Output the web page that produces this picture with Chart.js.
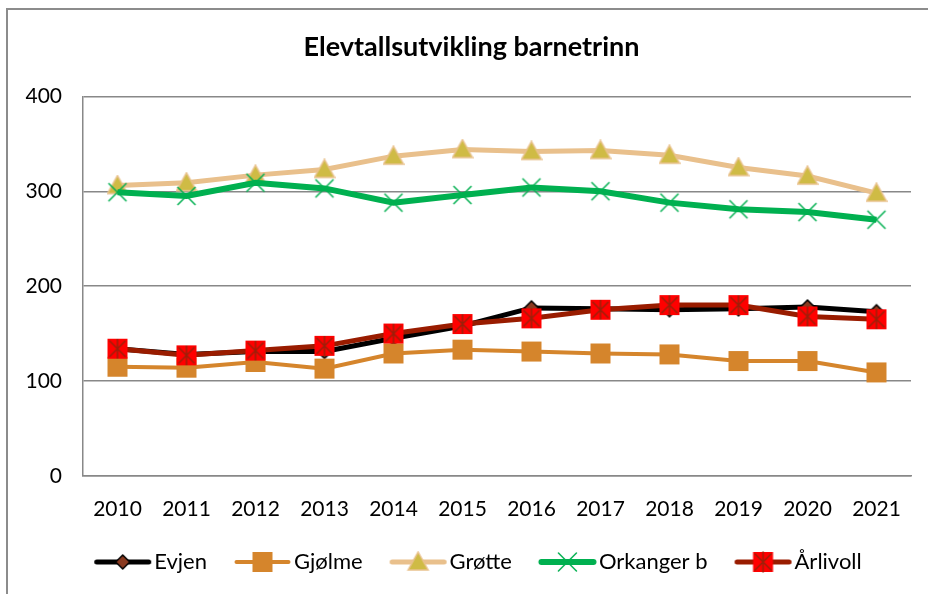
<!DOCTYPE html>
<html>
<head>
<meta charset="utf-8">
<script src="https://cdn.jsdelivr.net/npm/chart.js@4.4.0/dist/chart.umd.min.js"></script>
<style>
  html, body { margin: 0; padding: 0; background: #fff; }
  #wrap { position: relative; width: 928px; height: 594px; }
  #frame {
    position: absolute; left: 6px; top: 8px; width: 940px; height: 600px;
    border: 2px solid #8c8c8c; box-sizing: border-box;
  }
  canvas { position: absolute; left: 0; top: 0; }
</style>
</head>
<body>
<div id="wrap">
  <div id="frame"></div>
  <canvas id="chart" width="928" height="594"></canvas>
</div>
<script>
'use strict';

// ---------------------------------------------------------------------------
// Data
// ---------------------------------------------------------------------------

const YEARS = ['2010', '2011', '2012', '2013', '2014', '2015',
               '2016', '2017', '2018', '2019', '2020', '2021'];

const EVJEN     = [134, 128, 131, 131, 145, 158, 177, 176, 175, 176, 178, 173];
const GJOLME    = [115, 114, 120, 113, 129, 133, 131, 129, 128, 121, 121, 109];
const GROTTE    = [306, 309, 317, 323, 337, 344, 342, 343, 338, 325, 316, 298];
const ORKANGER  = [299, 295, 309, 303, 288, 296, 304, 300, 288, 281, 278, 270];
const ARLIVOLL  = [134, 127, 132, 137, 150, 160, 166, 175, 180, 180, 168, 165];

const Y_TICKS = [0, 100, 200, 300, 400];

const FONT = 'Lato, "Open Sans", "Noto Sans", sans-serif';

// ---------------------------------------------------------------------------
// Marker images (Excel-like)
// ---------------------------------------------------------------------------

function makeCanvas(w, h, draw) {
    const c = document.createElement('canvas');
    c.width = w;
    c.height = h;
    draw(c.getContext('2d'), w, h);
    return c;
}

function drawDiamond(ctx, cx, cy) {
    ctx.beginPath();
    ctx.moveTo(cx, cy - 7);
    ctx.lineTo(cx + 7, cy);
    ctx.lineTo(cx, cy + 7);
    ctx.lineTo(cx - 7, cy);
    ctx.closePath();
    ctx.fillStyle = '#8a3a20';
    ctx.fill();
    ctx.lineWidth = 1.5;
    ctx.strokeStyle = '#000';
    ctx.stroke();
}

function drawSquare(ctx, cx, cy) {
    ctx.fillStyle = '#d5852c';
    ctx.fillRect(cx - 10, cy - 10, 20, 20);
}

function drawTriangle(ctx, cx, cy) {
    ctx.beginPath();
    ctx.moveTo(cx, cy - 10);
    ctx.lineTo(cx + 10, cy + 8);
    ctx.lineTo(cx - 10, cy + 8);
    ctx.closePath();
    ctx.fillStyle = '#cfbb45';
    ctx.fill();
    ctx.lineWidth = 1.5;
    ctx.strokeStyle = '#e9c28e';
    ctx.stroke();
}

function drawX(ctx, cx, cy) {
    ctx.beginPath();
    ctx.moveTo(cx - 9, cy - 9);
    ctx.lineTo(cx + 9, cy + 9);
    ctx.moveTo(cx + 9, cy - 9);
    ctx.lineTo(cx - 9, cy + 9);
    ctx.lineWidth = 1.5;
    ctx.strokeStyle = '#00b050';
    ctx.stroke();
}

function drawStarSquare(ctx, cx, cy) {
    ctx.fillStyle = '#ff0000';
    ctx.fillRect(cx - 10, cy - 10, 20, 20);
    ctx.beginPath();
    ctx.moveTo(cx - 8, cy - 8);
    ctx.lineTo(cx + 8, cy + 8);
    ctx.moveTo(cx + 8, cy - 8);
    ctx.lineTo(cx - 8, cy + 8);
    ctx.moveTo(cx, cy - 10);
    ctx.lineTo(cx, cy + 10);
    ctx.lineWidth = 1.5;
    ctx.strokeStyle = '#9b200a';
    ctx.stroke();
}

const SERIES = [
    { label: 'Evjen',      data: EVJEN,    color: '#000000', width: 5, marker: drawDiamond },
    { label: 'Gjølme',     data: GJOLME,   color: '#d5852c', width: 4, marker: drawSquare },
    { label: 'Grøtte',     data: GROTTE,   color: '#e9c08c', width: 5, marker: drawTriangle },
    { label: 'Orkanger b', data: ORKANGER, color: '#00b050', width: 6, marker: drawX },
    { label: 'Årlivoll',   data: ARLIVOLL, color: '#991c00', width: 5, marker: drawStarSquare },
];

function pointImage(s) {
    return makeCanvas(22, 22, (ctx) => s.marker(ctx, 11, 11));
}

// legend symbol: line + marker, sitting right inside a wider transparent image
// so that it ends close to its text (Excel style)
function legendImage(s) {
    return makeCanvas(78, 22, (ctx) => {
        ctx.beginPath();
        ctx.moveTo(22.5, 11);
        ctx.lineTo(74.5, 11);
        ctx.lineWidth = s.width;
        ctx.lineCap = 'round';
        ctx.strokeStyle = s.color;
        ctx.stroke();
        s.marker(ctx, 48.5, 11);
    });
}

// small nudge of title / legend so they centre on the whole frame like in Excel
const centerNudge = {
    id: 'centerNudge',
    afterLayout(chart) {
        chart.titleBlock.left += 4;
        chart.titleBlock.right += 4;
        chart.legend.left += 5;
        chart.legend.right += 5;
    },
};

// ---------------------------------------------------------------------------
// Chart
// ---------------------------------------------------------------------------

const datasets = SERIES.map((s, i) => ({
    label:           s.label,
    data:            s.data,
    borderColor:     s.color,
    backgroundColor: s.color,
    borderWidth:     s.width,
    tension:         0,
    fill:            false,
    pointStyle:      pointImage(s),
    pointRadius:     10,
    legendImg:       legendImage(s),
    order:           SERIES.length - i,   // later series drawn on top
}));

new Chart(document.getElementById('chart'), {
    type: 'line',
    data: { labels: YEARS, datasets },
    plugins: [centerNudge],
    options: {
        responsive: false,
        animation: false,
        events: [],
        layout: { padding: { left: 24, right: 17, top: 0, bottom: 11 } },
        plugins: {
            title: {
                display: true,
                text: 'Elevtallsutvikling barnetrinn',
                color: '#000',
                font: { family: FONT, size: 27, weight: 'bold' },
                padding: { top: 31, bottom: 33 },
            },
            legend: {
                position: 'bottom',
                labels: {
                    color: '#000',
                    font: { family: FONT, size: 22 },
                    usePointStyle: true,
                    pointStyleWidth: 60,
                    boxHeight: 22,
                    padding: 16,
                    generateLabels: (chart) => chart.data.datasets.map((ds, i) => ({
                        text:         ds.label,
                        pointStyle:   ds.legendImg,
                        fillStyle:    ds.borderColor,
                        strokeStyle:  ds.borderColor,
                        lineWidth:    0,
                        hidden:       false,
                        datasetIndex: i,
                    })),
                },
            },
            tooltip: { enabled: false },
        },
        scales: {
            x: {
                offset: true,
                grid: { display: false, offset: true },
                border: { display: true, color: '#888', width: 1.5 },
                ticks: {
                    color: '#000',
                    font: { family: FONT, size: 21 },
                    padding: 13,
                    maxRotation: 0,
                },
            },
            y: {
                min: 0,
                max: 400,
                afterBuildTicks: (scale) => { scale.ticks = Y_TICKS.map(v => ({ value: v })); },
                afterFit: (scale) => { scale.width = 59; },
                grid: { color: '#888', lineWidth: 1.5, drawTicks: false },
                border: { display: true, color: '#888', width: 1.5 },
                ticks: {
                    color: '#000',
                    font: { family: FONT, size: 21 },
                    padding: 21,
                },
            },
        },
    },
});
</script>
</body>
</html>
